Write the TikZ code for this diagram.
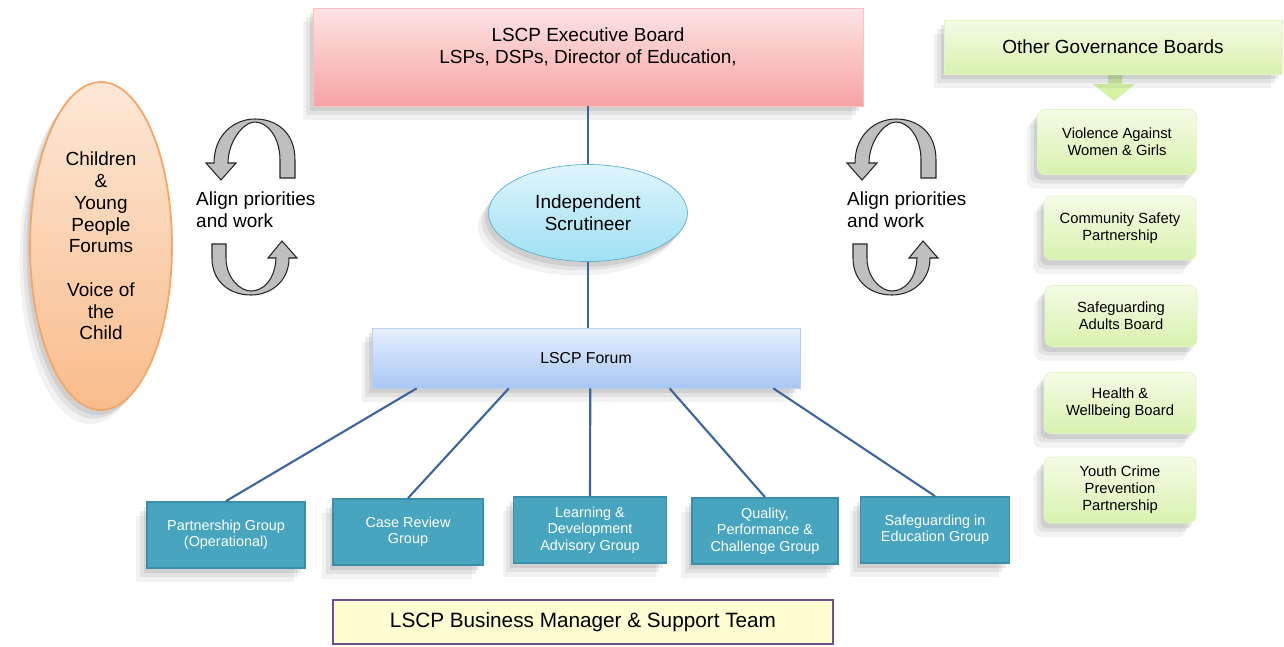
\documentclass[tikz,border=0pt]{standalone}
\usepackage{fontspec}
\setmainfont{Liberation Sans}
\usetikzlibrary{calc,shadows,shapes.geometric}

\definecolor{linkblue}{HTML}{3C64A0}
\definecolor{tealfill}{HTML}{47A5BF}
\definecolor{tealedge}{HTML}{3A8FA8}
\definecolor{govtop}{HTML}{F4FCE6}
\definecolor{govbot}{HTML}{D8F2AE}
\definecolor{govedge}{HTML}{E2F4C8}
\definecolor{govarrow}{HTML}{D5F2A5}

\begin{document}
\begin{tikzpicture}[x=0.02cm,y=-0.02cm,
		shadowed/.style={drop shadow={shadow xshift=-2pt,shadow yshift=-3pt,opacity=0.12,fill=black!70},
			drop shadow={shadow xshift=-4pt,shadow yshift=-5pt,opacity=0.1,fill=black!70},
			drop shadow={shadow xshift=-6pt,shadow yshift=-8pt,opacity=0.07,fill=black!70}},
		bigtext/.style={font=\fontsize{10.8}{12.4}\selectfont,align=center},
		forumlink/.style={draw=linkblue,line width=1.2pt},
		grp/.style={shadowed,draw=tealedge,fill=tealfill,line width=1pt,text=white,minimum width=3cm,
			minimum height=1.32cm,inner sep=1pt,align=center,font=\fontsize{8.2}{9.4}\selectfont},
		gov/.style={shadowed,draw=govedge,top color=govtop,bottom color=govbot,rounded corners=4pt,
			minimum width=3.04cm,minimum height=1.22cm,inner sep=1pt,align=center,font=\fontsize{8.4}{9.6}\selectfont},
		cyclearrow/.style={fill=black!25,draw=black!85,line width=0.6pt}]
		\useasboundingbox (0,0) rectangle (1284,646);

		% top of the tree
		\node[shadowed,draw=red!25,top color={rgb,255:red,253;green,228;blue,228},bottom color={rgb,255:red,247;green,163;blue,163},
			minimum width=11cm,minimum height=1.96cm] (exec) at (588,57) {};
		\node[bigtext] (exectext) at ($(exec.center)+(0,-10)$) {LSCP Executive Board\\LSPs, DSPs, Director of Education,};
		\node[ellipse,shadowed,draw={rgb,255:red,90;green,174;blue,203},top color={rgb,255:red,223;green,245;blue,252},
			bottom color={rgb,255:red,159;green,224;blue,243},minimum width=3.98cm,minimum height=1.94cm,
			inner sep=0pt,bigtext] (scrut) at (588,213) {Independent\\Scrutineer};
		\node[shadowed,draw={rgb,255:red,184;green,207;blue,242},top color={rgb,255:red,230;green,239;blue,253},
			bottom color={rgb,255:red,168;green,199;blue,244},minimum width=8.56cm,minimum height=1.2cm,
			font=\fontsize{9}{10}\selectfont] (forum) at (586,358) {LSCP Forum};

		% voice of the child
		\node[ellipse,shadowed,draw={rgb,255:red,245;green,165;blue,100},line width=1pt,
			top color={rgb,255:red,253;green,232;blue,214},bottom color={rgb,255:red,249;green,188;blue,140},
			minimum width=2.84cm,minimum height=6.56cm,inner sep=0pt,bigtext] (kids) at (101,246)
			{Children\\\&\\Young\\People\\Forums\\[12.4pt]Voice of\\the\\Child};

		% the five groups
		\node[grp,minimum width=3.16cm] (pg) at (226,535) {Partnership Group\\(Operational)};
		\node[grp] (cr) at (408,532) {Case Review\\Group};
		\node[grp,minimum width=3.06cm] (ld) at (590,530) {Learning \&\\Development\\Advisory Group};
		\node[grp,minimum width=2.92cm] (qp) at (765,531) {Quality,\\Performance \&\\Challenge Group};
		\node[grp,minimum width=2.98cm] (se) at (935,530) {Safeguarding in\\Education Group};

		\node[draw={rgb,255:red,111;green,79;blue,143},line width=1.2pt,fill={rgb,255:red,254;green,254;blue,210},
			minimum width=10cm,minimum height=0.88cm,font=\fontsize{11.8}{13}\selectfont] (biz) at (583,622)
			{LSCP Business Manager \& Support Team};

		\draw[forumlink] (exec.south) -- (scrut.north);
		\draw[forumlink] (scrut.south) -- (scrut.south |- forum.north);
		\foreach \f/\g in {0.105/pg,0.32/cr,0.51/ld,0.695/qp,0.937/se}
			\draw[forumlink] ($(forum.south west)!\f!(forum.south east)$) -- (\g.north);

		% align priorities, both sides
		\foreach \dx in {0,641}{
			\draw[cyclearrow] (295+\dx,178) -- (295+\dx,160) .. controls (295+\dx,132) and (276+\dx,119) .. (255+\dx,119)
				.. controls (234+\dx,119) and (214+\dx,135) .. (214+\dx,163) -- (206+\dx,163) -- (221+\dx,180) -- (236+\dx,163)
				-- (228+\dx,163) .. controls (228+\dx,142) and (243+\dx,122) .. (255+\dx,122)
				.. controls (268+\dx,122) and (280+\dx,138) .. (280+\dx,160) -- (280+\dx,178) -- cycle;
			\draw[cyclearrow] (212+\dx,244) -- (226+\dx,244) -- (226+\dx,258) .. controls (226+\dx,278) and (240+\dx,291) .. (251+\dx,291)
				.. controls (263+\dx,291) and (275+\dx,280) .. (276+\dx,258) -- (268+\dx,258) -- (282+\dx,241) -- (297+\dx,258)
				-- (289+\dx,258) .. controls (289+\dx,282) and (270+\dx,295) .. (251+\dx,295)
				.. controls (230+\dx,295) and (212+\dx,282) .. (212+\dx,258) -- cycle;
		}
		\node[bigtext,align=left,anchor=west] (alignl) at (190,210) {Align priorities\\and work};
		\node[bigtext,align=left,anchor=west] (alignr) at (841,210) {Align priorities\\and work};

		% other boards
		\fill[govarrow] (1108,74) -- (1122,74) -- (1122,84) -- (1135,84) -- (1114,101)
			-- (1093,84) -- (1108,84) -- cycle;
		\node[shadowed,draw=govedge,top color=govtop,bottom color=govbot,minimum width=6.76cm,minimum height=1.08cm,
			bigtext] (other) at (1113,47) {Other Governance Boards};
		\node[gov,minimum width=3.18cm,minimum height=1.3cm] (vawg) at (1117,142) {Violence Against\\Women \& Girls};
		\node[gov,minimum height=1.28cm] (csp) at (1120,228) {Community Safety\\Partnership};
		\node[gov] (sab) at (1121,316) {Safeguarding\\Adults Board};
		\node[gov] (hwb) at (1120,403) {Health \&\\Wellbeing Board};
		\node[gov,minimum height=1.32cm] (ycp) at (1120,490) {Youth Crime\\Prevention\\Partnership};
	  \end{tikzpicture}
\end{document}
